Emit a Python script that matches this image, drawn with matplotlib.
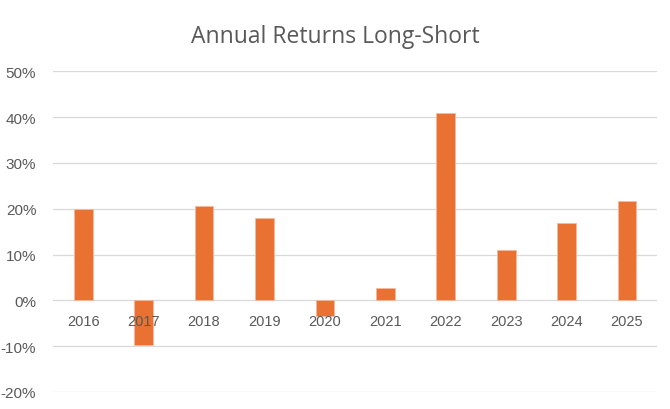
import matplotlib.pyplot as plt
from matplotlib.ticker import PercentFormatter

years = ['2016', '2017', '2018', '2019', '2020', '2021', '2022', '2023', '2024', '2025']
returns = [19.9, -9.8, 20.6, 18.0, -3.5, 2.7, 41.0, 10.9, 16.8, 21.6]

plt.rcParams['font.family'] = ['Liberation Sans', 'DejaVu Sans']
plt.rcParams['axes.unicode_minus'] = False
grey = '#595959'

fig = plt.figure(figsize=(6.7, 4.1), dpi=100)
ax = fig.add_axes([0.079, 0.0415, 0.902, 0.7822])

ax.bar(range(len(years)), returns, width=0.31, color='#E97132', edgecolor='#F4B9A0', linewidth=0.6, zorder=2)

ax.set_ylim(-20, 50)
ax.set_xlim(-0.5, len(years) - 0.5)
ax.set_yticks(range(-20, 51, 10))
ax.yaxis.set_major_formatter(PercentFormatter(decimals=0))
ax.grid(axis='y', color='#D9D9D9', linewidth=0.9)
ax.set_axisbelow(True)
ax.xaxis.set_zorder(5)  # year labels sit on top of the bars

ax.set_xticks(range(len(years)))
ax.set_xticklabels(years)
ax.spines['bottom'].set_position(('data', 0))
for s in ax.spines.values():
    s.set_visible(False)
ax.tick_params(axis='x', length=0, pad=10, labelsize=10.5, labelcolor=grey)
ax.tick_params(axis='y', length=0, pad=12, labelsize=11, labelcolor=grey)

fig.suptitle('Annual Returns Long-Short', y=0.94, fontsize=16.5, color=grey,
             family=['Open Sans', 'DejaVu Sans'])

fig.savefig('out.png', dpi=100)
